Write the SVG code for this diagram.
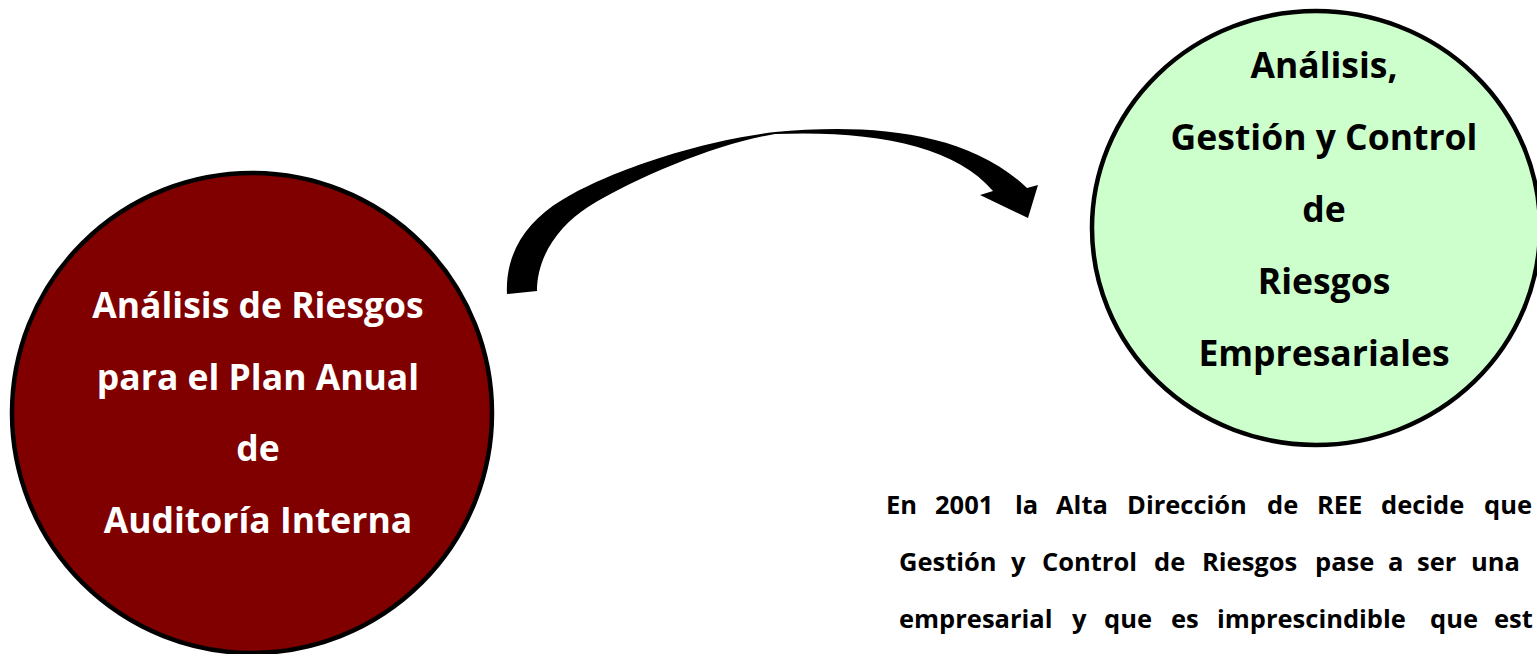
<svg xmlns="http://www.w3.org/2000/svg" width="1537" height="654" viewBox="0 0 1537 654">
<style>
.node{stroke:#000;stroke-width:4.5}
.t{font-family:"Open Sans","Noto Sans","Liberation Sans",sans-serif;font-weight:bold;text-anchor:middle;font-size:35.5px}
.body{font-family:"Open Sans","Noto Sans","Liberation Sans",sans-serif;font-weight:bold;font-size:25.5px;fill:#000}
</style>
<rect width="1537" height="654" fill="#fff"/>
<g id="connectors">
<path fill="#000" d="M507,294 C505,255 525,222 562,200 C600,176 690,142 775,132 C860,124 965,128 1027,188 L1038,185 L1028,218 L980,195 L993,191 C955,145 870,130 775,134 C720,143 640,175 588,207 C560,225 537,255 537,291 Z"/>
</g>
<g id="node-auditoria">
<circle class="node" cx="252" cy="413" r="240" fill="#800000"/>
<text class="t" fill="#fff"><tspan x="258" y="318">Análisis de Riesgos</tspan><tspan x="258" y="390">para el Plan Anual</tspan><tspan x="258" y="461">de</tspan><tspan x="258" y="533">Auditoría Interna</tspan></text>
</g>
<g id="node-gestion">
<ellipse class="node" cx="1316" cy="228" rx="224" ry="217" fill="#ccffcc"/>
<text class="t" fill="#000"><tspan x="1324" y="78">Análisis,</tspan><tspan x="1324" y="150">Gestión y Control</tspan><tspan x="1324" y="222">de</tspan><tspan x="1324" y="294">Riesgos</tspan><tspan x="1324" y="366">Empresariales</tspan></text>
</g>
<g id="note">
<text class="body" y="514"><tspan x="886">En</tspan> <tspan x="935">2001</tspan> <tspan x="1015">la</tspan> <tspan x="1056">Alta</tspan> <tspan x="1127">Dirección</tspan> <tspan x="1267">de</tspan> <tspan x="1317">REE</tspan> <tspan x="1381">decide</tspan> <tspan x="1484">que</tspan></text>
<text class="body" y="571"><tspan x="899">Gestión</tspan> <tspan x="1011">y</tspan> <tspan x="1042">Control</tspan> <tspan x="1154">de</tspan> <tspan x="1202">Riesgos</tspan> <tspan x="1315">pase</tspan> <tspan x="1388">a</tspan> <tspan x="1417">ser</tspan> <tspan x="1471">una</tspan></text>
<text class="body" y="628"><tspan x="899">empresarial</tspan> <tspan x="1072">y</tspan> <tspan x="1104">que</tspan> <tspan x="1171">es</tspan> <tspan x="1217">imprescindible</tspan> <tspan x="1430">que</tspan> <tspan x="1494">est</tspan></text>
</g>
</svg>
